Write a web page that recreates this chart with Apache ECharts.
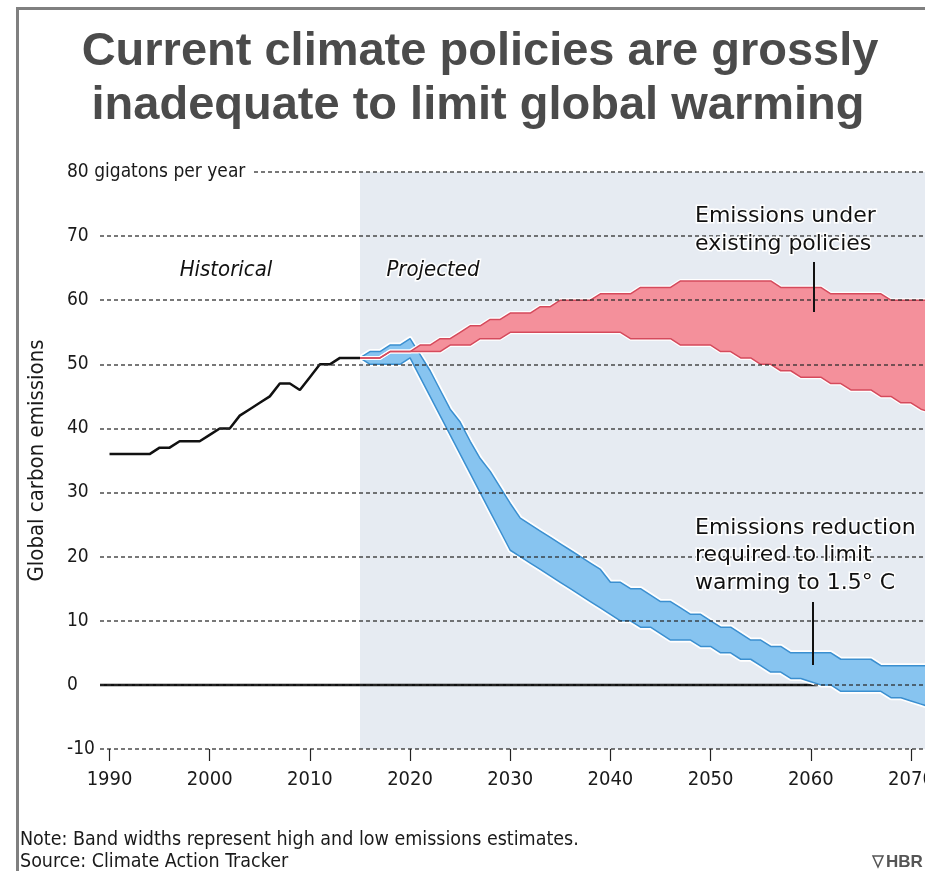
<!DOCTYPE html>
<html><head><meta charset="utf-8">
<script src="https://cdn.jsdelivr.net/npm/echarts@6/dist/echarts.min.js"></script>
<style>html,body{margin:0;padding:0;background:#fff}#c{width:925px;height:871px}</style>
</head><body><div id="c"></div>
<script>
// ---------- data ----------
const histYears  = [1990,1991,1992,1993,1994,1995,1996,1997,1998,1999,2000,2001,2002,2003,2004,2005,2006,2007,2008,2009,2010,2011,2012,2013,2014,2015];
const histValues = [36,36,36,36,36,37,37,38,38,38,39,40,40,42,43,44,45,47,47,46,48,50,50,51,51,51];

const projYears = [];
for (let y = 2015; y <= 2072; y++) projYears.push(y);

// Emissions under existing policies (high / low estimates)
const policyHigh = [51,51,51,52,52,52,53,53,54,54,55,56,56,57,57,58,58,58,59,59,60,60,60,60,61,61,61,61,62,62,62,62,63,63,63,63,63,63,63,63,63,63,62,62,62,62,62,61,61,61,61,61,61,60,60,60,60,60];
const policyLow  = [51,51,51,52,52,52,52,52,52,53,53,53,54,54,54,55,55,55,55,55,55,55,55,55,55,55,55,54,54,54,54,54,53,53,53,53,52,52,51,51,50,50,49,49,48,48,48,47,47,46,46,46,45,45,44,44,43,42.5];

// Emissions reduction required to limit warming to 1.5 C (high / low)
const targetHigh = [51,52,52,53,53,54,51.5,49,46,43,41,38,35.3,33.3,30.8,28.3,26,25,24,23,22,21,20,19,18,16,16,15,15,14,13,13,12,11,11,10,9,9,8,7,7,6,6,5,5,5,5,5,4,4,4,4,3,3,3,3,3,3];
const targetLow  = [51,50,50,50,50,51,48,45,42,39,36,33,30,27,24,21,20,19,18,17,16,15,14,13,12,11,10,10,9,9,8,7,7,7,6,6,5,5,4,4,3,2,2,1,1,0.5,0,0,-1,-1,-1,-1,-1,-2,-2,-2.5,-3,-3.5];

const xTickValues = [1990,2000,2010,2020,2030,2040,2050,2060,2070];
const yTopLabel = '80 gigatons per year';
const projectedStart = 2015;
const xMin = 1989.05, xMax = 2071.4;
const zeroValue = 0;

// ---------- helpers ----------
const pairs = (xs, vs) => xs.map((x, i) => [x, vs[i]]);

const COND = '"DejaVu Sans Condensed","Liberation Sans Narrow","Arial Narrow",sans-serif';
const SANS = '"DejaVu Sans","Liberation Sans",sans-serif';

const RED_FILL = '#f4909b', RED_EDGE = '#d54a5c';
const BLUE_FILL = '#87c4f0', BLUE_EDGE = '#3b8fd0';

function edge(data, color, width, z) {
  return { type: 'line', data, symbol: 'none', silent: true, z,
           lineStyle: { color, width, join: 'round' }, clip: true };
}
function band(lo, hi, fill, z) {
  return {
    type: 'custom', z, silent: true, clip: true,
    data: projYears.map((y, i) => [y, lo[i], hi[i]]),
    encode: { x: 0, y: [1, 2] },
    renderItem: (params, api) => {
      if (params.dataIndex !== 0) return null;
      const top = projYears.map((y, i) => api.coord([y, hi[i]]));
      const bot = projYears.map((y, i) => api.coord([y, lo[i]])).reverse();
      return { type: 'polygon', shape: { points: top.concat(bot) }, style: { fill: fill } };
    }
  };
}

const chart = echarts.init(document.getElementById('c'), null, { renderer: 'canvas' });

const option = {
  animation: false,
  backgroundColor: '#ffffff',
  grid: { left: 100, right: 0, top: 172, bottom: 122, containLabel: false, outerBoundsMode: 'none' },
  xAxis: {
    type: 'value', min: xMin, max: xMax, z: 10,
    axisLine: { show: false, onZero: false }, splitLine: { show: false },
    axisTick: { show: true, customValues: xTickValues, length: 12, lineStyle: { color: '#222', width: 1.2 } },
    axisLabel: { customValues: xTickValues, margin: 21, fontFamily: COND, fontSize: 20, color: '#1a1a1a',
                 formatter: v => String(v) }
  },
  yAxis: {
    type: 'value', min: -10, max: 80, interval: 10, z: 10,
    axisLine: { show: false }, axisTick: { show: false },
    splitLine: { lineStyle: { type: [4, 3], color: 'rgba(45,45,45,0.85)', width: 1.5 } },
    axisLabel: {
      align: 'left', margin: 33, fontFamily: COND, fontSize: 19, color: '#1a1a1a',
      formatter: v => v === 80 ? '{w|' + yTopLabel + '}' : String(v),
      rich: { w: { backgroundColor: '#ffffff', padding: [3, 7, 3, 0], fontFamily: COND, fontSize: 19, color: '#1a1a1a' } }
    },
    name: 'Global carbon emissions', nameLocation: 'middle', nameGap: 52, nameRotate: 90,
    nameTextStyle: { fontFamily: COND, fontSize: 22, color: '#1a1a1a' }
  },
  series: [
    // projected-period shading
    { type: 'line', data: [], silent: true, z: 1,
      markArea: { silent: true, itemStyle: { color: '#e6ebf2' },
        data: [[{ xAxis: projectedStart, yAxis: -10 }, { xAxis: xMax, yAxis: 80 }]] } },
    // zero line
    { type: 'line', data: [[xMin, zeroValue], [xMax, zeroValue]], symbol: 'none', silent: true, z: 2,
      lineStyle: { color: '#111', width: 2.5 } },
    // 1.5C band
    edge(pairs(projYears, targetHigh), '#ffffff', 5, 3),
    edge(pairs(projYears, targetLow), '#ffffff', 5, 3),
    band(targetLow, targetHigh, BLUE_FILL, 4),
    edge(pairs(projYears, targetHigh), BLUE_EDGE, 1.5, 5),
    edge(pairs(projYears, targetLow), BLUE_EDGE, 1.5, 5),
    // existing policies band
    edge(pairs(projYears, policyHigh), '#ffffff', 4, 6),
    edge(pairs(projYears, policyLow), '#ffffff', 4, 6),
    band(policyLow, policyHigh, RED_FILL, 7),
    edge(pairs(projYears, policyHigh), RED_EDGE, 1.5, 8),
    edge(pairs(projYears, policyLow), RED_EDGE, 1.5, 8),
    // historical
    { type: 'line', data: pairs(histYears, histValues), symbol: 'none', silent: true, z: 9,
      lineStyle: { color: '#111', width: 2.5 } }
  ],
  graphic: [
    // frame
    { type: 'rect', z: 100, shape: { x: 16, y: 7, width: 909, height: 3 }, style: { fill: '#808080' } },
    { type: 'rect', z: 100, shape: { x: 16, y: 7, width: 3, height: 864 }, style: { fill: '#808080' } },
    // title
    { type: 'text', z: 100, x: 480, y: 52, style: { text: 'Current climate policies are grossly',
      font: 'bold 47px "Liberation Sans", Arial, sans-serif', fill: '#4b4b4b', align: 'center', verticalAlign: 'middle' } },
    { type: 'text', z: 100, x: 478, y: 106, style: { text: 'inadequate to limit global warming',
      font: 'bold 47px "Liberation Sans", Arial, sans-serif', fill: '#4b4b4b', align: 'center', verticalAlign: 'middle' } },
    // period labels
    { type: 'text', z: 100, x: 226, y: 270, style: { text: 'Historical', font: 'italic 22px ' + COND,
      fill: '#111', align: 'center', verticalAlign: 'middle' } },
    { type: 'text', z: 100, x: 433, y: 270, style: { text: 'Projected', font: 'italic 22px ' + COND,
      fill: '#111', align: 'center', verticalAlign: 'middle', stroke: '#ffffff', lineWidth: 3 } },
    // annotations
    { type: 'text', z: 100, x: 695, y: 216, style: { text: 'Emissions under', font: '22px ' + SANS,
      fill: '#111', verticalAlign: 'middle', stroke: '#ffffff', lineWidth: 3 } },
    { type: 'text', z: 100, x: 695, y: 244, style: { text: 'existing policies', font: '22px ' + SANS,
      fill: '#111', verticalAlign: 'middle', stroke: '#ffffff', lineWidth: 3 } },
    { type: 'line', z: 100, shape: { x1: 814, y1: 262, x2: 814, y2: 312 }, style: { stroke: '#111', lineWidth: 2 } },
    { type: 'text', z: 100, x: 695, y: 528, style: { text: 'Emissions reduction', font: '22px ' + SANS,
      fill: '#111', verticalAlign: 'middle', stroke: '#ffffff', lineWidth: 3 } },
    { type: 'text', z: 100, x: 695, y: 555, style: { text: 'required to limit', font: '22px ' + SANS,
      fill: '#111', verticalAlign: 'middle', stroke: '#ffffff', lineWidth: 3 } },
    { type: 'text', z: 100, x: 695, y: 583, style: { text: 'warming to 1.5° C', font: '22px ' + SANS,
      fill: '#111', verticalAlign: 'middle', stroke: '#ffffff', lineWidth: 3 } },
    { type: 'line', z: 100, shape: { x1: 813, y1: 602, x2: 813, y2: 665 }, style: { stroke: '#111', lineWidth: 2 } },
    // footer
    { type: 'text', z: 100, x: 20, y: 840, style: { text: 'Note: Band widths represent high and low emissions estimates.',
      font: '19.5px ' + COND, fill: '#1a1a1a', verticalAlign: 'middle' } },
    { type: 'text', z: 100, x: 20, y: 862, style: { text: 'Source: Climate Action Tracker',
      font: '19.5px ' + COND, fill: '#1a1a1a', verticalAlign: 'middle' } },
    { type: 'polygon', z: 100, shape: { points: [[873, 856], [883, 856], [878, 867]] },
      style: { fill: 'none', stroke: '#555', lineWidth: 1.5 } },
    { type: 'text', z: 100, x: 886, y: 862, style: { text: 'HBR', font: 'bold 17px "Liberation Sans", Arial, sans-serif',
      fill: '#555', verticalAlign: 'middle' } }
  ]
};
chart.setOption(option);
</script>
</body></html>
